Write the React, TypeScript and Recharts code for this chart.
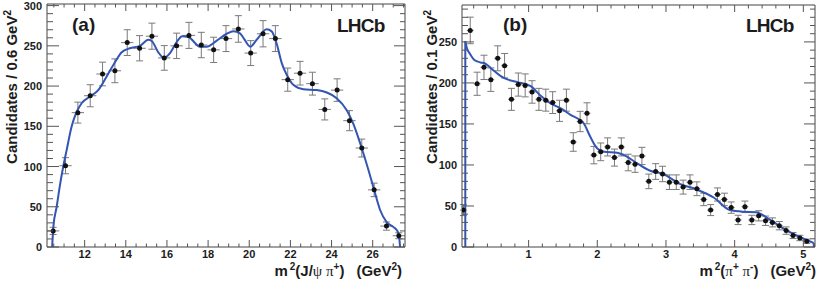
import React from 'react';
import { ComposedChart, Scatter, Line, XAxis, YAxis, ErrorBar } from 'recharts';

// ---------- Panel (a): m^2(J/psi pi+) ----------
const massA = [10.47, 11.07, 11.67, 12.27, 12.87, 13.47, 14.07, 14.67, 15.27, 15.87, 16.47, 17.07, 17.67, 18.27, 18.87, 19.47, 20.07, 20.67, 21.27, 21.87, 22.47, 23.07, 23.67, 24.27, 24.87, 25.47, 26.07, 26.67, 27.27];
const countsA = [20, 101, 167, 188, 215, 219, 254, 247, 262, 235, 250, 263, 251, 245, 259, 271, 241, 265, 259, 208, 216, 203, 171, 195, 157, 123, 71, 26, 14];
const errA = [4.5, 10, 13, 13.7, 14.7, 14.8, 16, 15.7, 16.2, 15.3, 15.8, 16.2, 15.8, 15.7, 16.1, 16.5, 15.5, 16.3, 16.1, 14.4, 14.7, 14.2, 13.1, 14, 12.5, 11.1, 8.4, 5.1, 3.7];
const halfBinA = 0.3;
const fitAX = [10.42, 10.48, 10.64, 10.8, 10.96, 11.13, 11.37, 11.58, 11.86, 12.26, 12.66, 13.07, 13.48, 13.8, 14.2, 14.69, 15.1, 15.26, 15.58, 15.86, 16.15, 16.48, 16.74, 17.04, 17.61, 17.93, 18.42, 18.91, 19.23, 19.55, 19.74, 20.05, 20.36, 20.85, 21.09, 21.34, 21.58, 21.82, 22.14, 22.63, 23.28, 23.77, 24.25, 24.74, 25.06, 25.39, 25.79, 26.07, 26.36, 26.68, 27.0, 27.22, 27.3, 27.33];
const fitAY = [0, 25, 50, 77, 100, 121, 150, 166, 179, 187, 195, 212, 230, 242, 247, 250, 257.5, 256, 242, 235, 241, 255, 262, 261, 249, 249, 256.5, 265, 268, 265.5, 259, 249, 257.5, 270.5, 268, 252, 228.5, 214, 201.5, 196, 195, 192, 185, 170, 153, 129, 96, 71, 46, 31, 25, 19, 9, 0];
const xTicksA = [10.5, 11, 11.5, 12, 12.5, 13, 13.5, 14, 14.5, 15, 15.5, 16, 16.5, 17, 17.5, 18, 18.5, 19, 19.5, 20, 20.5, 21, 21.5, 22, 22.5, 23, 23.5, 24, 24.5, 25, 25.5, 26, 26.5, 27, 27.5];
const xMajorA = [12, 14, 16, 18, 20, 22, 24, 26];
const yTicksA = [0, 10, 20, 30, 40, 50, 60, 70, 80, 90, 100, 110, 120, 130, 140, 150, 160, 170, 180, 190, 200, 210, 220, 230, 240, 250, 260, 270, 280, 290, 300];
const yMajorA = [0, 50, 100, 150, 200, 250, 300];

// ---------- Panel (b): m^2(pi+ pi-) ----------
const massB = [0.05, 0.15, 0.25, 0.35, 0.45, 0.55, 0.65, 0.75, 0.85, 0.95, 1.05, 1.15, 1.25, 1.35, 1.45, 1.55, 1.65, 1.75, 1.85, 1.95, 2.05, 2.15, 2.25, 2.35, 2.45, 2.55, 2.65, 2.75, 2.85, 2.95, 3.05, 3.15, 3.25, 3.35, 3.45, 3.55, 3.65, 3.75, 3.85, 3.95, 4.05, 4.15, 4.25, 4.35, 4.45, 4.55, 4.65, 4.75, 4.85, 4.95, 5.05];
const countsB = [45, 264, 199, 219, 204, 230, 221, 180, 198, 197, 189, 180, 179, 176, 166, 179, 128, 153, 163, 112, 116, 122, 109, 122, 103, 101, 111, 80, 92, 89, 79, 79, 73, 79, 71, 58, 45, 64, 58, 48, 33, 49, 33, 38, 32, 30, 26, 20, 14, 11, 7];
const errB = [6.7, 16.2, 14.1, 14.8, 14.3, 15.2, 14.9, 13.4, 14.1, 14, 13.7, 13.4, 13.4, 13.3, 12.9, 13.4, 11.3, 12.4, 12.8, 10.6, 10.8, 11, 10.4, 11, 10.1, 10, 10.5, 8.9, 9.6, 9.4, 8.9, 8.9, 8.5, 8.9, 8.4, 7.6, 6.7, 8, 7.6, 6.9, 5.7, 7, 5.7, 6.2, 5.7, 5.5, 5.1, 4.5, 3.7, 3.3, 2.6];
const halfBinB = 0.05;
const fitBX = [0.078, 0.1, 0.15, 0.21, 0.3, 0.36, 0.45, 0.6, 0.7, 0.84, 1.03, 1.18, 1.32, 1.47, 1.61, 1.8, 1.9, 2.0, 2.1, 2.29, 2.39, 2.58, 2.77, 2.96, 3.2, 3.45, 3.7, 3.93, 4.12, 4.31, 4.5, 4.7, 4.9, 5.09, 5.15];
const fitBY = [251, 243, 235, 228, 225, 224, 218, 208, 204, 201, 196, 184, 175, 169, 161, 151, 134, 120, 116, 115, 112, 102, 93, 89, 77, 70, 60, 45, 43, 42.5, 34, 23, 14, 7, 5];
const edgeLowBX = [0.078, 0.078];
const edgeLowBY = [0, 251];
const edgeHighBX = [5.15, 5.155];
const edgeHighBY = [5, 0];
const xTicksB = [0.2, 0.4, 0.6, 0.8, 1, 1.2, 1.4, 1.6, 1.8, 2, 2.2, 2.4, 2.6, 2.8, 3, 3.2, 3.4, 3.6, 3.8, 4, 4.2, 4.4, 4.6, 4.8, 5];
const xMajorB = [1, 2, 3, 4, 5];
const yTicksB = [0, 10, 20, 30, 40, 50, 60, 70, 80, 90, 100, 110, 120, 130, 140, 150, 160, 170, 180, 190, 200, 210, 220, 230, 240, 250, 260, 270, 280, 290];
const yMajorB = [0, 50, 100, 150, 200, 250];

const FONT = '"Liberation Sans", Arial, Helvetica, sans-serif';
const GREEK = '"Liberation Serif", "DejaVu Serif", serif';
const TICK_COLOR = '#555';
const FRAME = '#454545';
const BLUE = '#3355b3';
const ERR = '#7a7a7a';
const TXT = '#1c1c1c';

const isMajor = (v: number, majors: number[]) => majors.some((m) => Math.abs(m - v) < 1e-6);

function tickFactory(side: 'bottom' | 'top' | 'left' | 'right', majors: number[], majorLen: number, minorLen: number, labels: boolean) {
  return (props: any) => {
    const { x, y, payload } = props;
    const v = payload.value as number;
    const maj = isMajor(v, majors);
    const len = maj ? majorLen : minorLen;
    let x2 = x;
    let y2 = y;
    if (side === 'bottom') y2 = y - len;
    else if (side === 'top') y2 = y + len;
    else if (side === 'left') x2 = x + len;
    else x2 = x - len;
    return (
      <g>
        <line x1={x} y1={y} x2={x2} y2={y2} stroke={TICK_COLOR} strokeWidth={1} />
        {labels && maj && side === 'bottom' && (
          <text x={x} y={y + 11.2} textAnchor="middle" fontFamily={FONT} fontWeight="bold" fontSize={11} fill={TXT}>
            {String(v)}
          </text>
        )}
        {labels && maj && side === 'left' && (
          <text x={x - 5} y={y + 4} textAnchor="end" fontFamily={FONT} fontWeight="bold" fontSize={11} fill={TXT}>
            {String(v)}
          </text>
        )}
      </g>
    );
  };
}

const Dot = (p: any) => {
  if (p.cx == null || p.cy == null) return <g />;
  return <circle cx={p.cx} cy={p.cy} r={2.5} fill="#111" />;
};

type PanelProps = {
  xs: number[];
  ys: number[];
  errs: number[];
  halfBin: number;
  fitX: number[];
  fitY: number[];
  edges: { x: number[]; y: number[] }[];
  xDomain: [number, number];
  yDomain: [number, number];
  xTicks: number[];
  xMajors: number[];
  yTicks: number[];
  yMajors: number[];
  margin: { top: number; right: number; bottom: number; left: number };
};

function Panel(p: PanelProps) {
  const rows = p.xs.map((x, i) => ({ x, y: p.ys[i], ex: p.halfBin, ey: p.errs[i] }));
  const fitRows = p.fitX.map((x, i) => ({ x, y: p.fitY[i] }));
  const axisCommon = {
    type: 'number' as const,
    allowDataOverflow: true,
    interval: 0 as const,
    tickSize: 0,
    tickMargin: 0,
    tickLine: false,
    axisLine: { stroke: FRAME, strokeWidth: 1 },
  };
  return (
    <ComposedChart width={415} height={305} margin={p.margin}>
      <XAxis {...axisCommon} xAxisId="b" orientation="bottom" dataKey="x" domain={p.xDomain} ticks={p.xTicks} height={1} tick={tickFactory('bottom', p.xMajors, 7, 3.5, true)} />
      <XAxis {...axisCommon} xAxisId="t" orientation="top" dataKey="x" domain={p.xDomain} ticks={p.xTicks} height={1} tick={tickFactory('top', p.xMajors, 7, 3.5, false)} />
      <YAxis {...axisCommon} yAxisId="l" orientation="left" dataKey="y" domain={p.yDomain} ticks={p.yTicks} width={1} tick={tickFactory('left', p.yMajors, 12, 6, true)} />
      <YAxis {...axisCommon} yAxisId="r" orientation="right" dataKey="y" domain={p.yDomain} ticks={p.yTicks} width={1} tick={tickFactory('right', p.yMajors, 11, 5, false)} />
      <Line xAxisId="t" yAxisId="r" data={fitRows} dataKey="y" type="linear" stroke="none" dot={false} isAnimationActive={false} />
      <Scatter xAxisId="b" yAxisId="l" data={rows} isAnimationActive={false} shape={Dot}>
        <ErrorBar dataKey="ex" direction="x" width={0} stroke={ERR} strokeWidth={1} isAnimationActive={false} />
        <ErrorBar dataKey="ey" direction="y" width={3.5} stroke={ERR} strokeWidth={1} isAnimationActive={false} />
      </Scatter>
      <Line xAxisId="b" yAxisId="l" data={fitRows} dataKey="y" type="monotone" stroke={BLUE} strokeWidth={2} dot={false} isAnimationActive={false} />
      {p.edges.map((e, k) => (
        <Line key={k} xAxisId="b" yAxisId="l" data={e.x.map((x, i) => ({ x, y: e.y[i] }))} dataKey="y" type="linear" stroke={BLUE} strokeWidth={2} dot={false} isAnimationActive={false} />
      ))}
    </ComposedChart>
  );
}

const SUP = { dy: -6, fontSize: 10 };

export default function App() {
  return (
    <div style={{ position: 'absolute', left: 0, top: 0, width: 830, height: 305, background: '#fff', overflow: 'hidden' }}>
      <div style={{ position: 'absolute', left: 0, top: 0 }}>
        <Panel
          xs={massA}
          ys={countsA}
          errs={errA}
          halfBin={halfBinA}
          fitX={fitAX}
          fitY={fitAY}
          edges={[]}
          xDomain={[10.17, 27.57]}
          yDomain={[0, 302]}
          xTicks={xTicksA}
          xMajors={xMajorA}
          yTicks={yTicksA}
          yMajors={yMajorA}
          margin={{ top: 3, right: 9, bottom: 57, left: 46 }}
        />
      </div>
      <div style={{ position: 'absolute', left: 415, top: 0 }}>
        <Panel
          xs={massB}
          ys={countsB}
          errs={errB}
          halfBin={halfBinB}
          fitX={fitBX}
          fitY={fitBY}
          edges={[
            { x: edgeLowBX, y: edgeLowBY },
            { x: edgeHighBX, y: edgeHighBY },
          ]}
          xDomain={[0.03, 5.17]}
          yDomain={[0, 295]}
          xTicks={xTicksB}
          xMajors={xMajorB}
          yTicks={yTicksB}
          yMajors={yMajorB}
          margin={{ top: 4, right: 14, bottom: 57, left: 46 }}
        />
      </div>
      <svg width={830} height={305} style={{ position: 'absolute', left: 0, top: 0, pointerEvents: 'none' }}>
        <g fontFamily={FONT} fontWeight="bold" fill={TXT}>
          <text x={72} y={31} fontSize={19}>(a)</text>
          <text x={337} y={31.5} fontSize={19} letterSpacing={-0.8}>LHCb</text>
          <text x={503} y={31} fontSize={19}>(b)</text>
          <text x={746} y={31.5} fontSize={19} letterSpacing={-0.8}>LHCb</text>

          <text x={16.5} y={10} fontSize={15} textAnchor="end" transform="rotate(-90 16.5 10)">
            Candidates / 0.6 GeV<tspan {...SUP}>2</tspan>
          </text>
          <text x={436.5} y={10} fontSize={15} textAnchor="end" transform="rotate(-90 436.5 10)">
            Candidates / 0.1 GeV<tspan {...SUP}>2</tspan>
          </text>

          <text x={402} y={275.5} fontSize={15} textAnchor="end">
            m<tspan dx={2} dy={-6} fontSize={10}>2</tspan><tspan dy={6}>(J/</tspan><tspan fontFamily={GREEK} fontWeight="normal">ψ π</tspan><tspan dy={-6} fontSize={10}>+</tspan><tspan dy={6}>)</tspan><tspan dx={12}>(GeV</tspan><tspan dy={-6} fontSize={10}>2</tspan><tspan dy={6}>)</tspan>
          </text>
          <text x={816} y={275.5} fontSize={15} textAnchor="end">
            m<tspan dx={2} dy={-6} fontSize={10}>2</tspan><tspan dy={6}>(</tspan><tspan fontFamily={GREEK} fontWeight="normal">π</tspan><tspan dy={-6} fontSize={10}>+</tspan><tspan dy={6} fontFamily={GREEK} fontWeight="normal"> π</tspan><tspan dy={-6} fontSize={10}>-</tspan><tspan dy={6}>)</tspan><tspan dx={12}>(GeV</tspan><tspan dy={-6} fontSize={10}>2</tspan><tspan dy={6}>)</tspan>
          </text>
        </g>
      </svg>
    </div>
  );
}
